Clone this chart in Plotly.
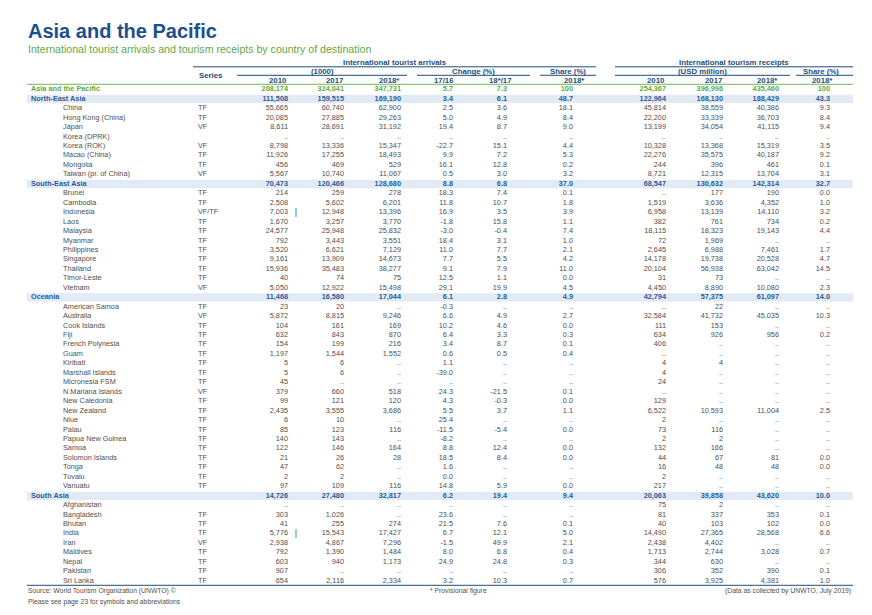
import plotly.graph_objects as go

# ---- data -------------------------------------------------------------
total = "Asia and the Pacific"
regions = ["North-East Asia", "South-East Asia", "Oceania", "South Asia"]
breaks = ["Indonesia", "India"]  # break in series after 2010

names = [
    "Asia and the Pacific", "North-East Asia", "China", "Hong Kong (China)", "Japan",
    "Korea (DPRK)", "Korea (ROK)", "Macao (China)", "Mongolia", "Taiwan (pr. of China)",
    "South-East Asia", "Brunei", "Cambodia", "Indonesia", "Laos", "Malaysia", "Myanmar",
    "Philippines", "Singapore", "Thailand", "Timor-Leste", "Vietnam",
    "Oceania", "American Samoa", "Australia", "Cook Islands", "Fiji", "French Polynesia",
    "Guam", "Kiribati", "Marshall Islands", "Micronesia FSM", "N.Mariana Islands",
    "New Caledonia", "New Zealand", "Niue", "Palau", "Papua New Guinea", "Samoa",
    "Solomon Islands", "Tonga", "Tuvalu", "Vanuatu",
    "South Asia", "Afghanistan", "Bangladesh", "Bhutan", "India", "Iran", "Maldives",
    "Nepal", "Pakistan", "Sri Lanka",
]
series = [
    "", "", "TF", "TF", "VF", "", "VF", "TF", "TF", "VF",
    "", "TF", "TF", "VF/TF", "TF", "TF", "TF", "TF", "TF", "TF", "TF", "VF",
    "", "TF", "VF", "TF", "TF", "TF", "TF", "TF", "TF", "TF", "VF",
    "TF", "TF", "TF", "TF", "TF", "TF", "TF", "TF", "TF", "TF",
    "", "", "TF", "TF", "TF", "VF", "TF", "TF", "TF", "TF",
]
N = None  # ".." data not available
arr_2010 = [
    208174, 111508, 55665, 20085, 8611, N, 8798, 11926, 456, 5567,
    70473, 214, 2508, 7003, 1670, 24577, 792, 3520, 9161, 15936, 40, 5050,
    11468, 23, 5872, 104, 632, 154, 1197, 5, 5, 45, 379, 99, 2435, 6, 85, 140, 122, 21, 47, 2, 97,
    14726, N, 303, 41, 5776, 2938, 792, 603, 907, 654,
]
arr_2017 = [
    324041, 159515, 60740, 27885, 28691, N, 13336, 17255, 469, 10740,
    120466, 259, 5602, 12948, 3257, 25948, 3443, 6621, 13909, 35483, 74, 12922,
    16580, 20, 8815, 161, 843, 199, 1544, 6, 6, N, 660, 121, 3555, 10, 123, 143, 146, 26, 62, 2, 109,
    27480, N, 1026, 255, 15543, 4867, 1390, 940, N, 2116,
]
arr_2018 = [
    347731, 169190, 62900, 29263, 31192, N, 15347, 18493, 529, 11067,
    128680, 278, 6201, 13396, 3770, 25832, 3551, 7129, 14673, 38277, 75, 15498,
    17044, N, 9246, 169, 870, 216, 1552, N, N, N, 518, 120, 3686, N, 116, N, 164, 28, N, N, 116,
    32817, N, N, 274, 17427, 7296, 1484, 1173, N, 2334,
]
chg_17_16 = [
    5.7, 3.4, 2.5, 5.0, 19.4, N, -22.7, 9.9, 16.1, 0.5,
    8.8, 18.3, 11.8, 16.9, -1.8, -3.0, 18.4, 11.0, 7.7, 9.1, 12.5, 29.1,
    6.1, -0.3, 6.6, 10.2, 6.4, 3.4, 0.6, 1.1, -39.0, N, 24.3, 4.3, 5.5, 25.4, -11.5, -8.2, 8.8, 18.5, 1.6, 0.0, 14.8,
    6.2, N, 23.6, 21.5, 6.7, -1.5, 8.0, 24.9, N, 3.2,
]
chg_18_17 = [
    7.3, 6.1, 3.6, 4.9, 8.7, N, 15.1, 7.2, 12.8, 3.0,
    6.8, 7.4, 10.7, 3.5, 15.8, -0.4, 3.1, 7.7, 5.5, 7.9, 1.1, 19.9,
    2.8, N, 4.9, 4.6, 3.3, 8.7, 0.5, N, N, N, -21.5, -0.3, 3.7, N, -5.4, N, 12.4, 8.4, N, N, 5.9,
    19.4, N, N, 7.6, 12.1, 49.9, 6.8, 24.8, N, 10.3,
]
share_arr = [
    100, 48.7, 18.1, 8.4, 9.0, N, 4.4, 5.3, 0.2, 3.2,
    37.0, 0.1, 1.8, 3.9, 1.1, 7.4, 1.0, 2.1, 4.2, 11.0, 0.0, 4.5,
    4.9, N, 2.7, 0.0, 0.3, 0.1, 0.4, N, N, N, 0.1, 0.0, 1.1, N, 0.0, N, 0.0, 0.0, N, N, 0.0,
    9.4, N, N, 0.1, 5.0, 2.1, 0.4, 0.3, N, 0.7,
]
rec_2010 = [
    254367, 122964, 45814, 22200, 13199, N, 10328, 22276, 244, 8721,
    68547, N, 1519, 6958, 382, 18115, 72, 2645, 14178, 20104, 31, 4450,
    42794, N, 32584, 111, 634, 406, N, 4, 4, 24, N, 129, 6522, 2, 73, 2, 132, 44, 16, 2, 217,
    20063, 75, 81, 40, 14490, 2438, 1713, 344, 306, 576,
]
rec_2017 = [
    396996, 168130, 38559, 33339, 34054, N, 13368, 35575, 396, 12315,
    130632, 177, 3636, 13139, 761, 18323, 1969, 6988, 19738, 56938, 73, 8890,
    57375, 22, 41732, 153, 926, N, N, 4, N, N, N, N, 10593, N, 116, 2, 166, 67, 48, N, N,
    39858, 2, 337, 103, 27365, 4402, 2744, 630, 352, 3925,
]
rec_2018 = [
    435460, 188429, 40386, 36703, 41115, N, 15319, 40187, 461, 13704,
    142314, 190, 4352, 14110, 734, 19143, N, 7461, 20528, 63042, N, 10080,
    61097, N, 45035, N, 956, N, N, N, N, N, N, N, 11004, N, N, N, N, 81, 48, N, N,
    43620, N, 353, 102, 28568, N, 3028, N, 390, 4381,
]
share_rec = [
    100, 43.3, 9.3, 8.4, 9.4, N, 3.5, 9.2, 0.1, 3.1,
    32.7, 0.0, 1.0, 3.2, 0.2, 4.4, N, 1.7, 4.7, 14.5, N, 2.3,
    14.0, N, 10.3, N, 0.2, N, N, N, N, N, N, N, 2.5, N, N, N, N, 0.0, 0.0, N, N,
    10.0, N, 0.1, 0.0, 6.6, N, 0.7, N, 0.1, 1.0,
]

# ---- style ------------------------------------------------------------
FONT = "Liberation Sans, Arial, sans-serif"
FS = 7.3
HFS = 7.8
NAVY = "#1d4f8a"
HEAD = "#1f4e79"
BLUE = "#2a5c9a"
GREEN = "#5fa84a"
GREY = "#4f4f4f"
SHADE = "#e2ebf5"

PAGE = 8            # default body margin of the html page
W, H = 856, 599     # figure size (page is 872 x 615)
ROW0, PITCH = 89.5, 9.45  # page-pixel centre of first row, row pitch


def yrow(px):
    # page pixel height -> row units of the y axis
    return (px - ROW0) / PITCH


def px_paper(x, y):
    return (x - PAGE) / W, 1 - (y - PAGE) / H


def fmt_int(v):
    return ".." if v is None else f"{v:,}"


def fmt_pct(v):
    if v is None:
        return ".."
    return "100" if v == 100 else f"{v:.1f}"


rows = list(range(len(names)))
level = ["total" if n == total else "region" if n in regions else "country" for n in names]
colors = [GREEN if l == "total" else BLUE if l == "region" else GREY for l in level]


def styled(texts):
    return [f"<b>{t}</b>" if l != "country" else t for t, l in zip(texts, level)]


fig = go.Figure()

# shaded region rows
for i, l in enumerate(level):
    if l == "region":
        fig.add_shape(type="rect", xref="x", yref="y", x0=27, x1=853,
                      y0=i - 0.44, y1=i + 0.44, fillcolor=SHADE, line_width=0, layer="below")

# names
fig.add_trace(go.Scatter(
    x=[31 if l != "country" else 63 for l in level], y=rows, mode="text",
    text=styled(names), textposition="middle right",
    textfont=dict(family=FONT, size=FS, color=colors),
    hoverinfo="skip", showlegend=False))

# series
fig.add_trace(go.Scatter(
    x=[198] * len(rows), y=rows, mode="text", text=series, textposition="middle right",
    textfont=dict(family=FONT, size=FS, color=GREY), hoverinfo="skip", showlegend=False))

columns = [
    (arr_2010, fmt_int, 288), (arr_2017, fmt_int, 344), (arr_2018, fmt_int, 401),
    (chg_17_16, fmt_pct, 453), (chg_18_17, fmt_pct, 507), (share_arr, fmt_pct, 573),
    (rec_2010, fmt_int, 666), (rec_2017, fmt_int, 723), (rec_2018, fmt_int, 779),
    (share_rec, fmt_pct, 830),
]
for vals, fmt, xr in columns:
    fig.add_trace(go.Scatter(
        x=[xr] * len(rows), y=rows, mode="text",
        text=styled([fmt(v) for v in vals]), textposition="middle left",
        textfont=dict(family=FONT, size=FS, color=colors),
        hoverinfo="skip", showlegend=False))

# break-in-series markers
brk_rows = [names.index(b) for b in breaks]
fig.add_trace(go.Scatter(
    x=[296] * len(brk_rows), y=brk_rows, mode="text", text=["|"] * len(brk_rows),
    textposition="middle center", textfont=dict(family=FONT, size=9, color=GREY),
    hoverinfo="skip", showlegend=False))


# header texts
def head(text, x, ypx, anchor="center"):
    fig.add_annotation(x=x, y=yrow(ypx), xref="x", yref="y", text=f"<b>{text}</b>",
                       showarrow=False, xanchor=anchor, yanchor="middle",
                       font=dict(family=FONT, size=HFS, color=HEAD))


head("International tourist arrivals", 394.5, 62)
head("International tourism receipts", 734, 62)
head("(1000)", 322, 71)
head("Change (%)", 473.5, 71)
head("Share (%)", 568, 71)
head("(USD million)", 702, 71)
head("Share (%)", 821, 71)
head("Series", 197, 75.5, "left")
for t, x in [("2010", 288), ("2017", 344), ("2018*", 401), ("17/16", 455), ("18*/17", 513),
             ("2018*", 586), ("2010", 666), ("2017", 723), ("2018*", 779), ("2018*", 834)]:
    head(t, x + 1, 80, "right")


# header rules
def rule(x0, x1, ypx, color=HEAD, width=1):
    fig.add_shape(type="line", xref="x", yref="y", x0=x0, x1=x1, y0=yrow(ypx), y1=yrow(ypx),
                  line=dict(color=color, width=width))


rule(193, 596, 66.8)
rule(615, 853, 66.8)
for x0, x1 in [(237, 407), (417, 530), (540, 596), (615, 790), (796, 853)]:
    rule(x0, x1, 75.3)
rule(27, 853, 84.3, color="#8cc47a", width=1.3)
rule(27, 853, 585.3)


# title, subtitle, footer
def note(text, x, y, size, color, anchor="left"):
    xp, yp = px_paper(x, y)
    fig.add_annotation(x=xp, y=yp, xref="paper", yref="paper", xanchor=anchor,
                       yanchor="middle", showarrow=False, text=text,
                       font=dict(family=FONT, size=size, color=color))


note("<b>Asia and the Pacific</b>", 26, 31, 20, NAVY)
note("International tourist arrivals and tourism receipts by country of destination",
     26, 49.5, 10.6, GREEN)
note("Source: World Tourism Organization (UNWTO) ©", 26, 591, 6.8, GREY)
note("Please see page 23 for symbols and abbreviations", 26, 601.5, 6.8, GREY)
note("* Provisional figure", 428, 591, 6.8, GREY)
note("(Data as collected by UNWTO, July 2019)", 853, 591, 6.8, GREY, "right")

fig.update_layout(
    width=W, height=H, autosize=False,
    margin=dict(l=0, r=0, t=0, b=0),
    paper_bgcolor="white", plot_bgcolor="white",
    xaxis=dict(range=[PAGE, PAGE + W], visible=False, fixedrange=True),
    yaxis=dict(range=[yrow(PAGE + H), yrow(PAGE)], visible=False, fixedrange=True),
)

fig.write_html("out.html")
